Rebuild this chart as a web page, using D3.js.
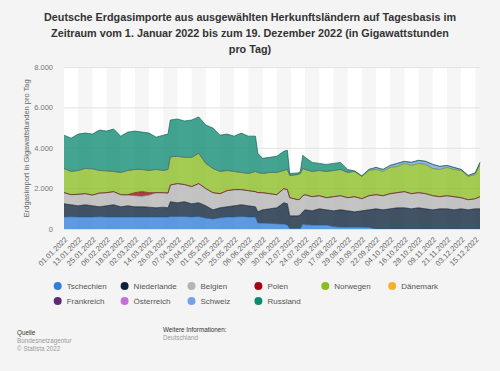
<!DOCTYPE html>
<html lang="de">
<head>
<meta charset="UTF-8">
<title>Deutsche Erdgasimporte 2022</title>
<style>
  body { margin: 0; background: #f4f4f4; font-family: "Liberation Sans", Arial, sans-serif; }
  svg { display: block; }
  .xaxis text { fill: #666; font-size: 7.5px; }
  .yaxis text { fill: #777; font-size: 7.5px; }
</style>
</head>
<body>
<script src="https://cdn.jsdelivr.net/npm/d3@7"></script>
<script>
// sample days (GWh per day)
const dates = ["2022-01-01","2022-01-07","2022-01-13","2022-01-19","2022-01-25","2022-01-31","2022-02-06","2022-02-12","2022-02-18","2022-02-24",
  "2022-03-02","2022-03-08","2022-03-14","2022-03-20","2022-03-26","2022-03-30","2022-04-01","2022-04-07","2022-04-13","2022-04-19",
  "2022-04-25","2022-05-01","2022-05-07","2022-05-13","2022-05-19","2022-05-25","2022-05-31","2022-06-06","2022-06-12","2022-06-14",
  "2022-06-18","2022-06-24","2022-06-30","2022-07-06","2022-07-09","2022-07-11","2022-07-18","2022-07-20","2022-07-22","2022-07-24",
  "2022-07-30","2022-08-05","2022-08-11","2022-08-17","2022-08-23","2022-08-29","2022-09-04","2022-09-10","2022-09-16","2022-09-22",
  "2022-09-28","2022-10-04","2022-10-10","2022-10-16","2022-10-22","2022-10-28","2022-11-03","2022-11-09","2022-11-15","2022-11-21",
  "2022-11-27","2022-12-03","2022-12-09","2022-12-15","2022-12-19"];

const tschechien = [600,610,600,600,600,610,600,600,600,600,600,600,600,600,600,600,620,620,620,600,
  620,540,500,560,600,600,620,600,600,300,300,280,260,250,200,30,30,30,250,220,
  200,200,200,120,100,100,100,100,90,0,0,0,0,0,0,0,0,0,0,0,0,0,0,0,0];
const niederlande = [650,590,550,600,550,490,550,600,500,550,500,500,480,450,480,450,730,680,730,650,
  680,610,450,490,500,550,580,550,500,550,650,720,790,1050,1050,620,620,670,600,730,
  700,800,750,780,850,800,750,800,860,1000,950,1000,1050,1050,1000,1050,1000,950,1000,1000,950,1000,950,1000,1000];
const belgien = [550,500,570,550,530,680,650,650,600,530,550,520,600,750,720,730,830,950,850,850,
  950,850,850,700,800,800,750,750,750,950,850,750,650,700,700,900,800,800,800,750,
  700,650,600,700,700,650,750,600,700,700,700,750,750,800,750,750,750,700,600,650,650,550,500,500,600];
const polen = [0,0,0,0,0,0,0,0,0,20,150,230,120,0,0,0,0,0,0,0,
  0,0,0,0,0,0,0,0,0,0,0,0,0,0,0,0,0,0,0,0,
  0,0,0,0,0,0,0,0,0,0,0,0,0,0,0,0,0,0,0,0,0,0,0,0,0];
const norwegen = [1200,1150,1180,1250,1300,1120,1080,1000,1100,1200,1150,1100,1100,1150,1100,1170,1400,1350,1350,1450,
  1500,1250,1200,1100,1000,900,850,850,1000,1000,950,1050,1100,900,1000,1100,1250,1250,1350,1250,
  1250,1250,1300,1300,1300,1250,1250,1100,1250,1250,1200,1300,1300,1400,1400,1450,1450,1350,1350,1400,1350,1350,1150,1200,1600];
const schweiz = [0,0,0,0,0,0,0,0,0,0,0,0,0,0,0,0,0,0,0,0,
  0,0,0,0,0,0,0,0,0,0,0,0,0,0,0,0,0,0,0,0,
  0,0,0,0,0,0,20,30,50,100,100,100,150,100,150,150,150,200,150,100,100,50,50,80,100];
const russland = [1650,1650,1800,1750,1720,2000,1970,2100,1800,1900,1900,1850,1850,1600,1750,1750,1820,1850,1800,1850,
  1800,1900,2000,1800,1800,1750,1950,1850,1750,950,750,750,800,950,950,100,80,100,650,600,
  450,350,350,350,350,150,0,0,0,0,0,0,0,0,0,0,0,0,0,0,0,0,0,0,0];

const countries = ["Tschechien","Niederlande","Belgien","Polen","Norwegen","Dänemark","Frankreich","Österreich","Schweiz","Russland"];
const colors = ["#2f7ed8","#0d233a","#b4b4b4","#a0070f","#8bbc21","#f2b230","#5c2b72","#c46fd8","#77a1e5","#0d8a72"];
const yTicks = [0, 2000, 4000, 6000, 8000];

const series = { Tschechien: tschechien, Niederlande: niederlande, Belgien: belgien, Polen: polen,
  Norwegen: norwegen, Schweiz: schweiz, Russland: russland };

const parse = d3.timeParse("%Y-%m-%d");
const rows = dates.map((d, i) => {
  const r = { date: parse(d) };
  Object.keys(series).forEach(k => r[k] = series[k][i]);
  return r;
});

const width = 500, height = 371;
const plotLeft = 64, plotRight = 480, plotTop = 67.5, plotBottom = 229;

const svg = d3.select("body").append("svg").attr("width", width).attr("height", height);

const x = d3.scaleTime().domain([parse("2022-01-01"), parse("2022-12-19")]).range([plotLeft, plotRight]);
const y = d3.scaleLinear().domain([0, 8000]).range([plotBottom, plotTop]);
const color = d3.scaleOrdinal().domain(countries).range(colors);

// title
const title = ["Deutsche Erdgasimporte aus ausgewählten Herkunftsländern auf Tagesbasis im",
  "Zeitraum vom 1. Januar 2022 bis zum 19. Dezember 2022 (in Gigawattstunden",
  "pro Tag)"];
svg.append("g").selectAll("text").data(title).join("text")
  .attr("x", 250).attr("y", (d, i) => 20.5 + i * 16.3)
  .attr("text-anchor", "middle")
  .attr("font-size", 10.8).attr("font-weight", "bold").attr("fill", "#333")
  .text(d => d);

// plot background with alternating bands
const tickVals = d3.timeDay.range(x.domain()[0], x.domain()[1], 12);
svg.append("rect").attr("x", plotLeft).attr("y", plotTop).attr("width", plotRight - plotLeft).attr("height", plotBottom - plotTop).attr("fill", "#fff");
svg.append("g").selectAll("rect").data(tickVals.filter((d, i) => i % 2 === 1)).join("rect")
  .attr("x", d => x(d)).attr("y", plotTop)
  .attr("width", d => Math.min(x(d3.timeDay.offset(d, 12)), plotRight) - x(d))
  .attr("height", plotBottom - plotTop).attr("fill", "#f6f6f6");

// grid
svg.append("g").selectAll("line").data(yTicks.slice(1)).join("line")
  .attr("x1", plotLeft).attr("x2", plotRight)
  .attr("y1", d => y(d)).attr("y2", d => y(d))
  .attr("stroke", "#e3e3e3").attr("stroke-width", 1);

// stacked areas
const stack = d3.stack().keys(countries).value((d, k) => d[k] || 0);
const layers = stack(rows);
const area = d3.area().x(d => x(d.data.date)).y0(d => y(d[0])).y1(d => y(d[1]));
const topLine = d3.line().x(d => x(d.data.date)).y(d => y(d[1]));

svg.append("g").selectAll("path").data(layers).join("path")
  .attr("d", area)
  .attr("fill", d => color(d.key))
  .attr("fill-opacity", 0.78);

svg.append("g").selectAll("path").data(layers.filter(l => series[l.key])).join("path")
  .attr("d", topLine)
  .attr("fill", "none")
  .attr("stroke", d => d3.color(color(d.key)).darker(1.2))
  .attr("stroke-opacity", 0.7)
  .attr("stroke-width", 0.9);

// y axis
const yAxis = svg.append("g").attr("class", "yaxis");
yAxis.selectAll("text").data(yTicks).join("text")
  .attr("x", 53).attr("y", d => y(d) + 2.5)
  .attr("text-anchor", "end")
  .text(d => d3.format(",")(d).replace(",", "."));
svg.append("text")
  .attr("transform", `translate(29,${(plotTop + plotBottom) / 2}) rotate(-90)`)
  .attr("text-anchor", "middle").attr("font-size", 7.5).attr("fill", "#666")
  .text("Erdgasimport in Gigawattstunden pro Tag");

// x axis
svg.append("line").attr("x1", plotLeft).attr("x2", plotRight).attr("y1", plotBottom + 0.5).attr("y2", plotBottom + 0.5)
  .attr("stroke", "#e6dfd0");
const fmt = d3.timeFormat("%d.%m.%Y");
svg.append("g").attr("class", "xaxis").selectAll("text").data(tickVals).join("text")
  .attr("transform", d => `translate(${x(d) + 4},${plotBottom + 11}) rotate(-45)`)
  .attr("text-anchor", "end")
  .text(d => fmt(d));

// legend
const legend = svg.append("g").selectAll("g").data(countries).join("g")
  .attr("transform", (d, i) => `translate(${57.7 + (i % 6) * 66.9},${i < 6 ? 286 : 301})`);
legend.append("circle").attr("r", 4).attr("fill", d => color(d));
legend.append("text").attr("x", 9).attr("y", 3).attr("font-size", 8).attr("fill", "#555").text(d => d);

// footer
const foot = svg.append("g").attr("font-size", 6.3);
foot.append("text").attr("x", 17).attr("y", 334.5).attr("fill", "#333").text("Quelle");
foot.append("text").attr("x", 17).attr("y", 342.5).attr("fill", "#999").text("Bundesnetzagentur");
foot.append("text").attr("x", 17).attr("y", 350.5).attr("fill", "#999").text("© Statista 2022");
foot.append("text").attr("x", 163).attr("y", 331.5).attr("fill", "#333").text("Weitere Informationen:");
foot.append("text").attr("x", 163).attr("y", 339.5).attr("fill", "#999").text("Deutschland");
</script>
</body>
</html>
